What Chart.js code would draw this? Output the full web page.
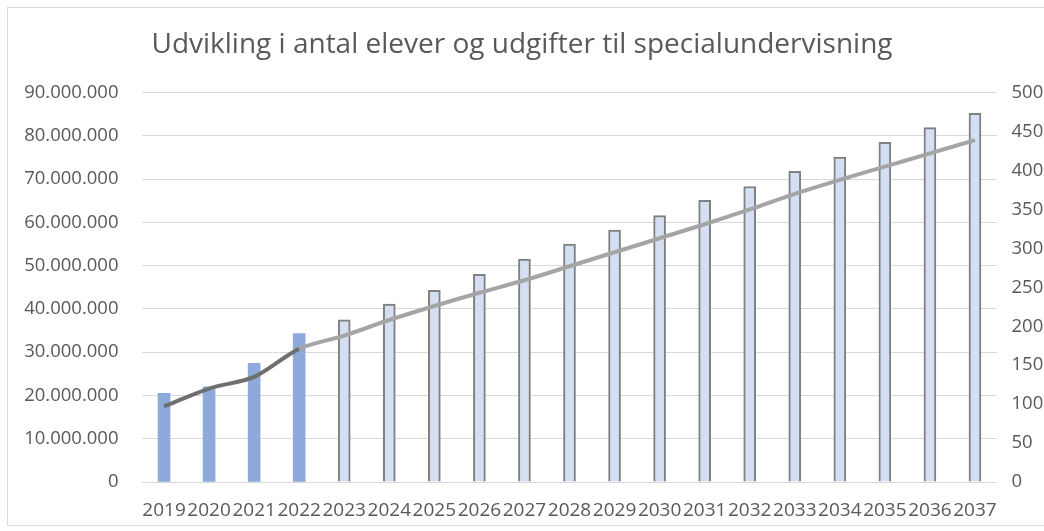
<!DOCTYPE html>
<html>
<head>
<meta charset="utf-8">
<script src="https://cdn.jsdelivr.net/npm/chart.js@4/dist/chart.umd.min.js"></script>
<style>
  html, body { margin:0; padding:0; background:#fff; }
  #frame { position:absolute; left:7px; top:7px; width:1040px; height:519px; border:1px solid #d9d9d9; box-sizing:border-box; }
  #wrap { position:absolute; left:0; top:0; width:1044px; height:531px; }
</style>
</head>
<body>
<div id="frame"></div>
<div id="wrap"><canvas id="chart" width="1044" height="531"></canvas></div>
<script>
// data
const years = ['2019','2020','2021','2022','2023','2024','2025','2026','2027','2028',
               '2029','2030','2031','2032','2033','2034','2035','2036','2037'];
const udgifter = [20500000, 22000000, 27400000, 34300000, 37500000, 41100000, 44300000, 48000000,
                  51500000, 55000000, 58200000, 61600000, 65100000, 68300000, 71800000, 75100000,
                  78500000, 81900000, 85200000];
const elever = [97, 120, 135, 171, 188, 208, 226, 243, 259, 277, 295, 313, 331, 350, 370, 388, 405, 422, 439];
const lastActual = 3; // 2022 is the last real year, rest is projection

const fmt = v => String(v).replace(/\B(?=(\d{3})+(?!\d))/g, '.');
const tickFont = { family:'Open Sans', size:18.5 };

new Chart(document.getElementById('chart'), {
  type: 'bar',
  data: {
    labels: years,
    datasets: [
      {
        type: 'line', label: 'Elever', data: elever, yAxisID: 'y2', order: 0,
        borderColor: '#a5a5a5', borderWidth: 4, pointRadius: 0, tension: 0.3,
        segment: { borderColor: ctx => ctx.p0DataIndex < lastActual ? '#6f6f6f' : '#a5a5a5' }
      },
      {
        label: 'Udgifter', data: udgifter, yAxisID: 'y', order: 1, barThickness: 12,
        backgroundColor: years.map((y, i) => i <= lastActual ? '#8eaadb' : '#d5dff3'),
        borderColor: '#808080',
        borderWidth: years.map((y, i) => i <= lastActual ? 0 : 2)
      }
    ]
  },
  options: {
    responsive: false,
    animation: false,
    layout: { padding: 0 },
    plugins: {
      legend: { display: false },
      tooltip: { enabled: false },
      title: {
        display: true,
        text: 'Udvikling i antal elever og udgifter til specialundervisning',
        color: '#595959',
        font: { family:'Open Sans', size: 28, weight: 'normal' },
        padding: { top: 28, bottom: 31 }
      }
    },
    scales: {
      x: {
        afterFit: s => { s.height = 49; },
        grid: { display: false, drawTicks: false },
        border: { display: false },
        ticks: { color:'#595959', font: { family:'Open Sans', size:19 }, autoSkip:false, maxRotation:0, padding: 17 }
      },
      y: {
        position: 'left', min: 0, max: 90000000,
        afterFit: s => { s.width = 141.5; },
        grid: { color:'#d9d9d9', drawTicks:false },
        border: { display:false },
        ticks: { stepSize: 10000000, color:'#595959', font: tickFont, padding: 23, callback: v => fmt(v) }
      },
      y2: {
        position: 'right', min: 0, max: 500,
        afterFit: s => { s.width = 46.5; },
        grid: { display:false, drawTicks:false },
        border: { display:false },
        ticks: { stepSize: 50, color:'#595959', font: tickFont, padding: 14 }
      }
    }
  }
});
</script>
</body>
</html>
